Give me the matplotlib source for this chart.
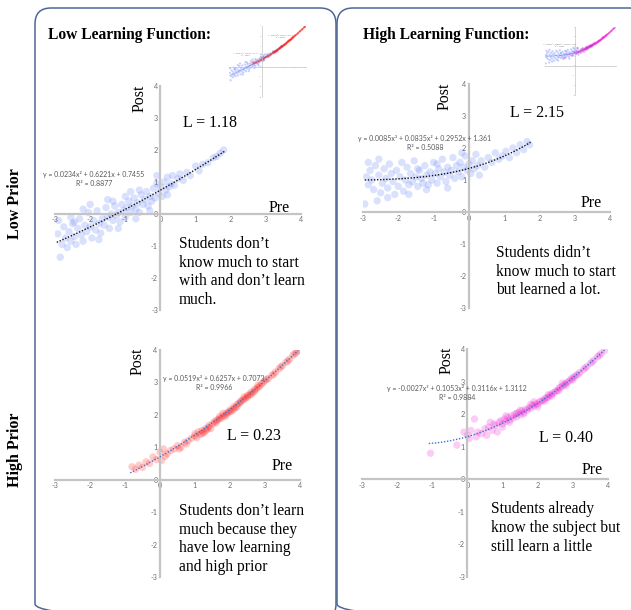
import numpy as np
import matplotlib
matplotlib.use('Agg')
import matplotlib.pyplot as plt
from matplotlib.patches import FancyBboxPatch

# ---------------- data ----------------
ticks = [-3, -2, -1, 0, 1, 2, 3, 4]
tick_labels = ['-3', '-2', '-1', '0', '1', '2', '3', '4']

# Low prior / low learning (blue)
p1_x = [-2.92, -2.85, -2.8, -2.75, -2.7, -2.65, -2.6, -2.55, -2.5, -2.45, -2.4, -2.35, -2.3, -2.25, -2.2,
        -2.15, -2.1, -2.05, -2.0, -1.95, -1.9, -1.85, -1.8, -1.75, -1.7, -1.65, -1.6, -1.55, -1.5, -1.45,
        -1.4, -1.35, -1.3, -1.25, -1.2, -1.15, -1.1, -1.05, -1.0, -0.95, -0.9, -0.85, -0.8, -0.75, -0.7,
        -0.65, -0.6, -0.55, -0.5, -0.45, -0.4, -0.35, -0.3, -0.25, -0.2, -0.15, -0.1, -0.05, 0.0, 0.05,
        0.1, 0.15, 0.2, 0.25, 0.3, 0.35, 0.4, 0.5, 0.55, 0.65, 0.75, 0.85, 1.0, 1.1, 1.2, 1.35, 1.5, 1.6,
        1.7, 1.8, -2.55, -2.2, -1.75, -1.2, -0.7, -0.3, -2.9, -2.0, -1.5, -0.1, 0.2, -0.6, -1.0, -2.45,
        -1.35, -0.85]
p1_y = [-0.62, -1.35, -0.95, -0.40, -0.75, -1.05, -0.55, -0.85, -0.30, -0.70, -0.95, -0.45, -0.15, -0.65,
        -0.85, -0.35, -0.55, 0.05, -0.40, -0.75, -0.20, -0.50, 0.10, -0.30, -0.60, -0.15, -0.35, 0.20, -0.10,
        -0.45, 0.00, -0.20, 0.25, -0.05, 0.05, -0.25, 0.30, 0.10, -0.10, 0.20, 0.40, 0.05, 0.25, 0.50, 0.15,
        0.35, 0.05, 0.60, 0.30, 0.45, 0.70, 0.25, 0.55, 0.40, 0.80, 0.50, 0.95, 0.65, 0.85, 0.55, 1.00, 0.75,
        1.15, 0.85, 0.95, 1.20, 0.90, 1.10, 1.25, 1.05, 1.30, 1.20, 1.50, 1.35, 1.55, 1.60, 1.75, 1.80, 1.90,
        2.00, -0.10, 0.15, -0.80, -0.45, -0.15, 0.10, -0.20, 0.30, 0.45, 1.20, 0.60, 0.75, 0.55, -0.25, 0.40,
        0.70]

# Low prior / high learning (blue)
p2_x = [-2.95, -2.9, -2.85, -2.8, -2.75, -2.7, -2.65, -2.6, -2.55, -2.5, -2.45, -2.4, -2.35, -2.3, -2.25,
        -2.2, -2.15, -2.1, -2.05, -2.0, -1.95, -1.9, -1.85, -1.8, -1.75, -1.7, -1.65, -1.6, -1.55, -1.5,
        -1.45, -1.4, -1.35, -1.3, -1.25, -1.2, -1.15, -1.1, -1.05, -1.0, -0.95, -0.9, -0.85, -0.8, -0.75,
        -0.7, -0.65, -0.6, -0.55, -0.5, -0.45, -0.4, -0.35, -0.3, -0.25, -0.2, -0.15, -0.1, -0.05, 0.0,
        0.05, 0.1, 0.15, 0.2, 0.25, 0.35, 0.45, 0.55, 0.65, 0.75, 0.85, 0.95, 1.05, 1.15, 1.25, 1.35, 1.45,
        1.55, 1.65, 1.72, -2.85, -2.3, -1.7, -1.2, -0.6, -2.55, -1.45, -0.9, -0.2, 0.3]
p2_y = [0.25, 1.10, 0.85, 1.30, 1.00, 0.70, 1.45, 0.35, 1.15, 0.60, 0.90, 1.35, 1.05, 0.75, 1.50, 1.20, 0.95,
        0.55, 1.30, 0.80, 1.10, 1.55, 0.65, 1.00, 1.40, 0.85, 1.20, 0.95, 1.60, 1.10, 0.80, 1.30, 1.05, 0.90,
        1.45, 1.15, 0.85, 1.25, 1.00, 1.55, 1.20, 0.90, 1.35, 1.10, 1.65, 1.25, 0.95, 1.40, 1.15, 1.30, 1.70,
        1.05, 1.45, 1.25, 1.55, 1.10, 1.40, 1.75, 1.30, 1.50, 1.20, 1.60, 1.35, 1.80, 1.45, 1.60, 1.40, 1.70,
        1.55, 1.85, 1.65, 1.75, 1.90, 1.70, 2.00, 1.85, 2.10, 1.95, 2.20, 2.10, 1.55, 0.45, 0.55, 0.70, 0.75,
        1.65, 1.35, 1.50, 1.85, 1.15]

# High prior / low learning (red)
p3_x = [-0.8, -0.7, -0.6, -0.5, -0.4, -0.3, -0.2, -0.1, 0.0, 0.05, 0.1, 0.15, 0.2, 0.3, 0.4, 0.5, 0.6, 0.7,
        0.8, 0.9, 1.0, 1.05, 1.1, 1.15, 1.2, 1.25, 1.3, 1.35, 1.4, 1.45, 1.5, 1.55, 1.6, 1.65, 1.7, 1.75, 1.8,
        1.85, 1.9, 1.95, 2.0, 2.05, 2.1, 2.15, 2.2, 2.25, 2.3, 2.35, 2.4, 2.45, 2.5, 2.55, 2.6, 2.65, 2.7,
        2.75, 2.8, 2.85, 2.9, 2.95, 3.0, 3.1, 3.2, 3.3, 3.4, 3.5, 3.6, 3.7, 3.8, 3.9, 3.95, 1.0, 1.2, 1.4,
        1.6, 1.8, 2.0, 2.2, 2.4, 2.6, 2.8, 1.3, 1.7, 2.1, 2.5, 2.7, 0.55, 0.75, 1.9, 2.3, 3.05, 3.25, 3.45,
        3.65, 3.85]
p3_y = [0.40, 0.32, 0.45, 0.38, 0.55, 0.50, 0.70, 0.62, 0.85, 0.60, 0.95, 0.72, 0.80, 0.90, 0.95, 1.05, 1.00,
        1.15, 1.20, 1.28, 1.42, 1.30, 1.48, 1.40, 1.52, 1.45, 1.58, 1.55, 1.62, 1.58, 1.72, 1.78, 1.75, 1.85,
        1.88, 1.90, 1.98, 1.95, 2.05, 2.08, 2.15, 2.12, 2.25, 2.22, 2.32, 2.35, 2.38, 2.45, 2.48, 2.52, 2.60,
        2.62, 2.70, 2.68, 2.78, 2.80, 2.85, 2.88, 2.95, 3.00, 3.05, 3.12, 3.22, 3.32, 3.42, 3.52, 3.62, 3.72,
        3.84, 3.93, 3.98, 1.35, 1.42, 1.68, 1.82, 2.05, 2.10, 2.25, 2.55, 2.62, 2.92, 1.50, 1.95, 2.18, 2.55,
        2.72, 0.95, 1.10, 2.00, 2.42, 3.10, 3.25, 3.48, 3.66, 3.88]

# High prior / high learning (magenta)
p4_x = [-1.05, -0.3, -0.1, 0.0, 0.05, 0.1, 0.2, 0.25, 0.3, 0.4, 0.5, 0.55, 0.6, 0.7, 0.75, 0.8, 0.85, 0.9,
        0.95, 1.0, 1.05, 1.1, 1.15, 1.2, 1.25, 1.3, 1.35, 1.4, 1.45, 1.5, 1.55, 1.6, 1.65, 1.7, 1.75, 1.8,
        1.85, 1.9, 1.95, 2.0, 2.05, 2.1, 2.15, 2.2, 2.25, 2.3, 2.35, 2.4, 2.45, 2.5, 2.55, 2.6, 2.65, 2.7,
        2.75, 2.8, 2.85, 2.9, 2.95, 3.0, 3.05, 3.1, 3.2, 3.3, 3.4, 3.5, 3.6, 3.7, 3.8, 3.9, 1.0, 1.2, 1.4,
        1.6, 1.8, 2.0, 2.2, 2.4, 2.6, 2.8, 3.0, 0.65, 1.1, 1.5, 1.9, 2.3, 2.7, 3.15, 3.35, 3.55, 3.75]
p4_y = [0.80, 1.05, 1.45, 1.35, 1.25, 1.50, 1.85, 1.30, 1.45, 1.40, 1.55, 1.35, 1.60, 1.50, 1.70, 1.65, 1.45,
        1.75, 1.80, 1.70, 1.85, 1.78, 1.90, 1.82, 1.95, 1.88, 2.00, 1.92, 2.05, 1.98, 2.10, 2.05, 2.15, 2.12,
        2.20, 2.18, 2.28, 2.25, 2.32, 2.30, 2.38, 2.40, 2.42, 2.48, 2.50, 2.52, 2.58, 2.62, 2.65, 2.70, 2.72,
        2.80, 2.82, 2.86, 2.90, 2.95, 2.98, 3.02, 3.08, 3.12, 3.15, 3.20, 3.28, 3.36, 3.46, 3.56, 3.66, 3.76,
        3.86, 3.95, 1.60, 1.75, 2.02, 2.00, 2.30, 2.22, 2.40, 2.55, 2.72, 2.88, 3.05, 1.75, 1.95, 2.12, 2.38,
        2.60, 2.95, 3.22, 3.42, 3.60, 3.80]

# trendline coefficients (highest power first) as printed on the chart
p1_coef = [0.0234, 0.6221, 0.7455]
p2_coef = [0.0085, 0.0835, 0.2952, 1.361]
p3_coef = [0.0519, 0.6257, 0.7073]
p4_coef = [-0.0027, 0.1053, 0.3116, 1.3112]
p1_range = [-2.95, 1.85]
p2_range = [-2.95, 1.75]
p3_range = [-0.85, 3.95]
p4_range = [-1.1, 3.9]

p1_eq = ['y = 0.0234x² + 0.6221x + 0.7455', 'R² = 0.8877']
p2_eq = ['y = 0.0085x³ + 0.0835x² + 0.2952x + 1.361', 'R² = 0.5088']
p3_eq = ['y = 0.0519x² + 0.6257x + 0.7073', 'R² = 0.9966']
p4_eq = ['y = -0.0027x³ + 0.1053x² + 0.3116x + 1.3112', 'R² = 0.9884']

L_values = ['L = 1.18', 'L = 2.15', 'L = 0.23', 'L = 0.40']
captions = ["Students don’t\nknow much to start\nwith and don’t learn\nmuch.",
            "Students didn’t\nknow much to start\nbut learned a lot.",
            "Students don’t learn\nmuch because they\nhave low learning\nand high prior",
            "Students already\nknow the subject but\nstill learn a little"]
col_titles = ['Low Learning Function:', 'High Learning Function:']
row_titles = ['Low Prior', 'High Prior']

BLUE = '#3F62F8'
RED = '#FF1A1A'
MAGENTA = '#F01ED2'
SERIF = 'Liberation Serif'
EQFONT = 'Lato'

# ---------------- figure ----------------
W, H = 631, 610
fig = plt.figure(figsize=(W / 100, H / 100), dpi=100)
fig.patch.set_facecolor('white')


def px_axes(x0, x1, y0, y1, z=1):
    return fig.add_axes([x0 / W, 1 - y1 / H, (x1 - x0) / W, (y1 - y0) / H], zorder=z)


def style(ax, fs=5.2, lw=1.6, pad=1.8, lc='#6E6E6E'):
    ax.set_xlim(-3, 4)
    ax.set_ylim(-3, 4)
    ax.patch.set_alpha(0)
    for s in ['top', 'right']:
        ax.spines[s].set_visible(False)
    for s in ['left', 'bottom']:
        ax.spines[s].set_position(('data', 0))
        ax.spines[s].set_color('#C4C4C4')
        ax.spines[s].set_linewidth(lw)
    ax.set_xticks(ticks)
    ax.set_yticks(ticks)
    ax.set_xticklabels(tick_labels)
    ax.set_yticklabels(tick_labels)
    ax.tick_params(length=0, labelsize=fs, labelcolor=lc, pad=pad)
    for lab in ax.get_xticklabels() + ax.get_yticklabels():
        lab.set_fontfamily(EQFONT)


def trend(ax, coef, rng, color, lw=1.0, n=100):
    xs = np.linspace(rng[0], rng[1], n)
    ax.plot(xs, np.polyval(coef, xs), color=color, lw=lw, ls=(0, (1, 1.2)), zorder=3)


panels = [
    (p1_x, p1_y, p1_coef, p1_range, BLUE, 0.19, '#111111', (55, 301, 86, 310)),
    (p2_x, p2_y, p2_coef, p2_range, BLUE, 0.19, '#111111', (363, 610, 84, 308)),
    (p3_x, p3_y, p3_coef, p3_range, RED, 0.22, '#4472C4', (55, 300, 350, 577)),
    (p4_x, p4_y, p4_coef, p4_range, MAGENTA, 0.22, '#4472C4', (362, 608, 349, 577)),
]

for xs, ys, coef, rng, col, al, tcol, box in panels:
    ax = px_axes(*box)
    style(ax)
    ax.scatter(xs, ys, s=28, color=col, alpha=al, edgecolors='none', zorder=2)
    trend(ax, coef, rng, tcol)

# thumbnails
thumbs = [
    ((p1_x, p1_y, p1_coef, p1_range), (p3_x, p3_y, p3_coef, p3_range), RED, (229, 306, 26, 97)),
    ((p2_x, p2_y, p2_coef, p2_range), (p4_x, p4_y, p4_coef, p4_range), MAGENTA, (545, 616, 27, 95)),
]
for lowset, highset, hcol, box in thumbs:
    ax = px_axes(*box)
    style(ax, fs=1.6, lw=0.5, pad=0.4, lc='#9A9A9A')
    ax.scatter(lowset[0], lowset[1], s=2.5, color=BLUE, alpha=0.3, edgecolors='none')
    ax.scatter(highset[0], highset[1], s=2.5, color=hcol, alpha=0.4, edgecolors='none')
    trend(ax, lowset[2], lowset[3], '#3050C0', lw=0.4)
    trend(ax, highset[2], highset[3], hcol, lw=0.4)

# overlay for text and boxes (pixel coordinates)
ov = fig.add_axes([0, 0, 1, 1], zorder=20)
ov.set_xlim(0, W)
ov.set_ylim(H, 0)
ov.axis('off')
ov.patch.set_alpha(0)

thumb_eq = [(p1_eq, 246, 53), (p3_eq, 281, 35), (p2_eq, 560, 44)]
for eq, x, y in thumb_eq:
    ov.text(x, y, eq[0], fontsize=1.3, color='#7F7F7F', ha='center', va='center', family=EQFONT)
    ov.text(x, y + 2, eq[1], fontsize=1.3, color='#7F7F7F', ha='center', va='center', family=EQFONT)

# boxes
for x0, x1 in [(35, 336), (337, 645)]:
    ov.add_patch(FancyBboxPatch((x0, 8), x1 - x0, 612, boxstyle='round,pad=0,rounding_size=16',
                                fc='none', ec='#4D6897', lw=1.1, clip_on=False))

# titles
ov.text(48, 35, col_titles[0], fontsize=11.2, fontweight='bold', family=SERIF, va='center', ha='left')
ov.text(363, 35, col_titles[1], fontsize=11.2, fontweight='bold', family=SERIF, va='center', ha='left')
ov.text(15, 204, row_titles[0], fontsize=11.5, fontweight='bold', family=SERIF, va='center', ha='center',
        rotation=90)
ov.text(15, 450, row_titles[1], fontsize=11.5, fontweight='bold', family=SERIF, va='center', ha='center',
        rotation=90)

# equations
eq_pos = [(p1_eq, 94, 175, 184), (p2_eq, 425, 139, 148), (p3_eq, 214, 379, 388), (p4_eq, 457, 389, 398)]
for eq, x, y1, y2 in eq_pos:
    ov.text(x, y1, eq[0], fontsize=5.0, color='#595959', ha='center', va='center', family=EQFONT)
    ov.text(x, y2, eq[1], fontsize=5.0, color='#595959', ha='center', va='center', family=EQFONT)

# L values
for s, (x, y) in zip(L_values, [(183, 123), (510, 113), (227, 436), (539, 438)]):
    ov.text(x, y, s, fontsize=11.5, family=SERIF, va='center', ha='left')

# Pre / Post
for x, y in [(290, 208), (602, 203), (293, 466), (603, 470)]:
    ov.text(x, y, 'Pre', fontsize=11.5, family=SERIF, va='center', ha='right')
for x, y in [(140, 98), (445, 96), (138, 361), (447, 360)]:
    ov.text(x, y, 'Post', fontsize=11.5, family=SERIF, va='center', ha='center', rotation=90)

# captions
for s, (x, y) in zip(captions, [(179, 272), (496, 271.5), (179, 539), (491, 528)]):
    ov.text(x, y, s, fontsize=11.2, family=SERIF, va='center', ha='left', linespacing=1.24)

fig.savefig('out.png', dpi=100, facecolor='white')
